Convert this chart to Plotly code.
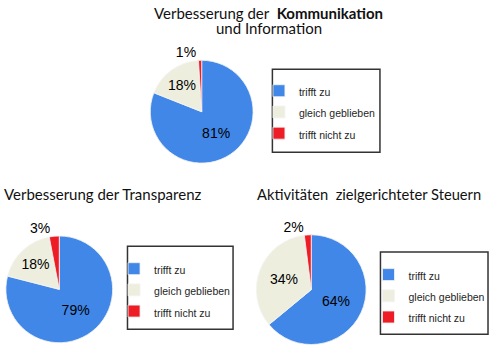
import plotly.graph_objects as go

# ---- data ----
categories = ["trifft zu", "gleich geblieben", "trifft nicht zu"]
kommunikation = [81, 18, 1]
transparenz = [79, 18, 3]
steuern = [64, 34, 2]
colors = ["#4187e8", "#eeeedf", "#ee1c25"]

W, H = 491, 350

def px_x(a, b):
    return [a / W, b / W]

def px_y(top, bottom):
    return [1 - bottom / H, 1 - top / H]

def legend_labels(size_str):
    # distinct markup per pie so that each pie keeps its own legend entries
    return [f"<span style='font-size:{size_str}px'>{c}</span>" for c in categories]

def pie(values, dom_x, dom_y, legend, size_str):
    return go.Pie(
        values=values,
        labels=legend_labels(size_str),
        sort=False,
        direction="clockwise",
        rotation=0,
        domain=dict(x=dom_x, y=dom_y),
        marker=dict(colors=colors, line=dict(color="#f4f4f4", width=0.8)),
        texttemplate="%{value}%",
        textposition=["inside", "inside", "outside"],
        insidetextorientation="horizontal",
        textfont=dict(family="Liberation Sans, Arial", size=14, color="#000000"),
        outsidetextfont=dict(family="Liberation Sans, Arial", size=14, color="#000000"),
        legend=legend,
        hoverinfo="percent",
    )

fig = go.Figure()
fig.add_trace(pie(kommunikation, px_x(148.5, 252.5), px_y(61, 165), "legend", "10.5"))
fig.add_trace(pie(transparenz, px_x(3.5, 111.5), px_y(238.7, 346.7), "legend2", "10.50"))
fig.add_trace(pie(steuern, px_x(255, 366), px_y(237.5, 348.5), "legend3", "10.500"))

def legend_cfg(x_px, y_px):
    return dict(
        x=x_px / W, y=1 - y_px / H, xanchor="left", yanchor="top",
        bgcolor="rgba(0,0,0,0)", borderwidth=0,
        font=dict(family="Liberation Sans, Arial", size=14, color="#1e1e1e"),
        traceorder="normal",
    )

boxes = [(271.5, 70, 379.5, 154), (126, 249, 232, 333), (380, 255, 488, 338)]
shapes = [
    dict(type="rect", xref="paper", yref="paper",
         x0=b[0] / W, x1=b[2] / W, y0=1 - b[3] / H, y1=1 - b[1] / H,
         line=dict(color="#333333", width=1.5), fillcolor="rgba(0,0,0,0)")
    for b in boxes
]

title_font = dict(family="Lato, Open Sans", size=15, color="#111111")
annotations = [
    dict(text="Verbesserung der  <b>Kommunikation</b>", x=268 / W, y=1 - 13 / H,
         xref="paper", yref="paper", showarrow=False, xanchor="center", yanchor="middle",
         font=title_font),
    dict(text="und Information", x=268 / W, y=1 - 28 / H,
         xref="paper", yref="paper", showarrow=False, xanchor="center", yanchor="middle",
         font=title_font),
    dict(text="Verbesserung der Transparenz", x=0 / W, y=1 - 196 / H,
         xref="paper", yref="paper", showarrow=False, xanchor="left", yanchor="middle",
         font=title_font),
    dict(text="Aktivitäten  zielgerichteter Steuern", x=254 / W, y=1 - 196 / H,
         xref="paper", yref="paper", showarrow=False, xanchor="left", yanchor="middle",
         font=dict(family="Lato, Open Sans", size=14.7, color="#111111")),
]

fig.update_layout(
    width=W, height=H,
    margin=dict(l=0, r=0, t=0, b=0),
    paper_bgcolor="white", plot_bgcolor="white",
    showlegend=True,
    legend=legend_cfg(258, 76),
    legend2=legend_cfg(112.5, 256),
    legend3=legend_cfg(368, 262),
    shapes=shapes,
    annotations=annotations,
)

fig.write_html("out.html", config={"displayModeBar": False},
               post_script="document.body.style.margin='0px';")
